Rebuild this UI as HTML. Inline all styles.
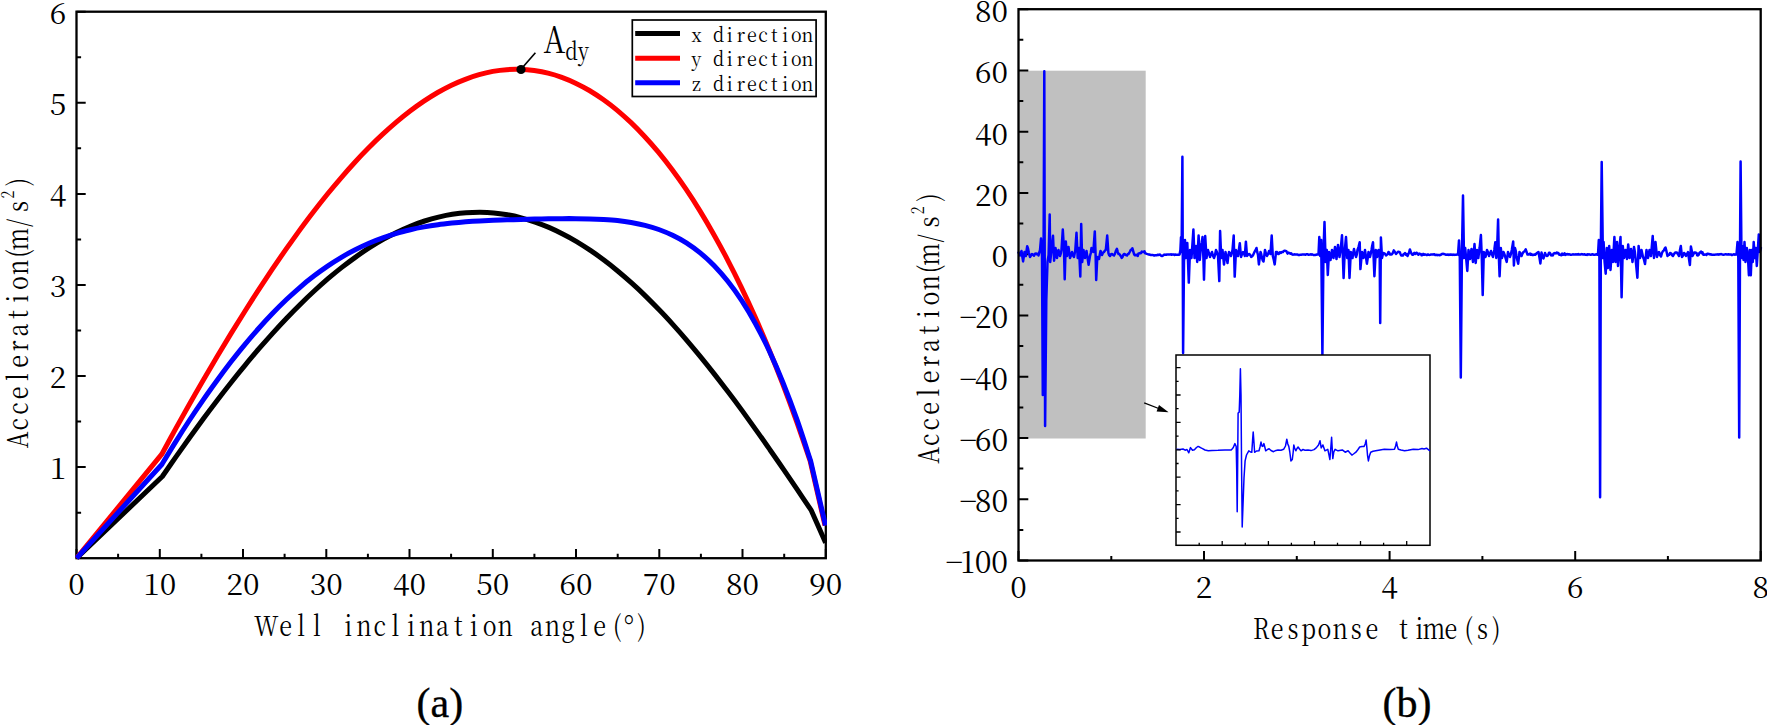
<!DOCTYPE html>
<html lang="en"><head><meta charset="utf-8"><title>Acceleration charts</title>
<style>html,body{margin:0;padding:0;background:#fff;overflow:hidden}svg{display:block}text{font-family:"Liberation Serif",serif;fill:#000}.s text,text.s{font-family:"Noto Serif CJK SC","Liberation Serif",serif;font-weight:400}</style></head><body>
<svg width="1767" height="725" viewBox="0 0 1767 725">
<rect width="1767" height="725" fill="#fff"/>
<g id="chart-a" class="s">
<rect x="76.5" y="11.7" width="749.3" height="546.5" fill="none" stroke="#000" stroke-width="2.3"/>
<path d="M76.5 512.7h4.6M76.5 467.1h9.2M76.5 421.6h4.6M76.5 376h9.2M76.5 330.5h4.6M76.5 285h9.2M76.5 239.4h4.6M76.5 193.9h9.2M76.5 148.3h4.6M76.5 102.8h9.2M76.5 57.2h4.6M76.5 11.7h9.2M76.5 558.2v-9.2M118.1 558.2v-4.4M159.8 558.2v-9.2M201.4 558.2v-4.4M243 558.2v-9.2M284.6 558.2v-4.4M326.3 558.2v-9.2M367.9 558.2v-4.4M409.5 558.2v-9.2M451.1 558.2v-4.4M492.8 558.2v-9.2M534.4 558.2v-4.4M576 558.2v-9.2M617.7 558.2v-4.4M659.3 558.2v-9.2M700.9 558.2v-4.4M742.5 558.2v-9.2M784.2 558.2v-4.4M825.8 558.2v-9.2" stroke="#000" stroke-width="2.0" fill="none"/>
<clipPath id="ca"><rect x="75.2" y="10.4" width="751.8" height="549"/></clipPath>
<g clip-path="url(#ca)">
<path d="M76.5 558.2L162.3 476.5C164.6 473.2 171.5 463.2 176.1 456.6C180.7 450.1 185.3 443.6 189.9 437.2C194.5 430.8 199.1 424.5 203.7 418.3C208.3 412.1 212.9 406 217.5 400C222.1 393.9 226.7 388 231.3 382.2C235.9 376.4 240.5 370.7 245.2 365.1C249.8 359.5 254.4 354.1 259 348.7C263.6 343.4 268.2 338.2 272.8 333.1C277.4 328 282 323 286.6 318.2C291.2 313.4 295.8 308.7 300.4 304.2C305 299.6 309.6 295.2 314.2 291C318.8 286.8 323.4 282.7 328 278.7C332.6 274.8 337.2 271 341.8 267.4C346.4 263.8 351 260.4 355.6 257.1C360.2 253.8 364.8 250.7 369.4 247.7C374 244.8 378.6 242 383.2 239.4C387.8 236.8 392.4 234.4 397 232.2C401.6 230 406.3 227.9 410.9 226C415.5 224.2 420.1 222.5 424.7 221C429.3 219.5 433.9 218.2 438.5 217.1C443.1 216 447.7 215 452.3 214.3C456.9 213.6 461.5 213 466.1 212.7C470.7 212.3 475.3 212.2 479.9 212.2C484.5 212.3 489.1 212.5 493.7 212.9C498.3 213.3 502.9 214 507.5 214.8C512.1 215.6 516.7 216.6 521.3 217.8C525.9 219.1 530.5 220.5 535.1 222.1C539.7 223.7 544.3 225.5 548.9 227.4C553.5 229.4 558.1 231.6 562.7 234C567.3 236.3 572 238.9 576.6 241.6C581.2 244.4 585.8 247.3 590.4 250.4C595 253.5 599.6 256.8 604.2 260.3C608.8 263.7 613.4 267.4 618 271.2C622.6 275 627.2 279 631.8 283.2C636.4 287.3 641 291.6 645.6 296.1C650.2 300.6 654.8 305.3 659.4 310.1C664 314.8 668.6 319.8 673.2 324.9C677.8 330 682.4 335.2 687 340.6C691.6 346 696.2 351.5 700.8 357.1C705.4 362.7 710 368.5 714.6 374.4C719.2 380.3 723.8 386.3 728.4 392.3C733.1 398.4 737.7 404.6 742.3 410.9C746.9 417.2 751.5 423.6 756.1 430.1C760.7 436.5 765.3 443.1 769.9 449.7C774.5 456.2 779.1 462.9 783.7 469.6C788.3 476.3 792.9 483.1 797.5 489.9C802.1 496.7 809 507 811.3 510.4L825.6 542.8" fill="none" stroke="#000" stroke-width="5.0" stroke-linejoin="round"/>
<path d="M76.5 558.2L161.8 454.2C164.1 450 171 437.3 175.6 428.9C180.2 420.6 184.8 412.4 189.4 404.3C194 396.1 198.6 388.1 203.2 380.2C207.8 372.3 212.4 364.4 217 356.7C221.6 349 226.2 341.4 230.8 333.9C235.4 326.4 240 319 244.6 311.7C249.2 304.4 253.8 297.2 258.4 290.2C263 283.1 267.6 276.2 272.1 269.4C276.7 262.6 281.3 255.9 285.9 249.3C290.5 242.8 295.1 236.4 299.7 230.1C304.3 223.9 308.9 217.7 313.5 211.8C318.1 205.8 322.7 200 327.3 194.3C331.9 188.6 336.5 183.1 341.1 177.8C345.7 172.4 350.3 167.2 354.9 162.2C359.5 157.2 364.1 152.4 368.7 147.8C373.3 143.1 377.9 138.6 382.5 134.4C387.1 130.1 391.7 126 396.3 122.1C400.9 118.2 405.5 114.5 410.1 111C414.7 107.5 419.3 104.2 423.9 101.1C428.5 98.1 433.1 95.2 437.7 92.5C442.3 89.9 446.9 87.4 451.5 85.2C456.1 83 460.7 81 465.3 79.3C469.9 77.5 474.5 76 479.1 74.7C483.7 73.4 488.2 72.3 492.8 71.4C497.4 70.6 502 70 506.6 69.7C511.2 69.3 515.8 69.2 520.4 69.4C525 69.5 529.6 69.9 534.2 70.5C538.8 71.2 543.4 72 548 73.2C552.6 74.3 557.2 75.7 561.8 77.4C566.4 79.1 571 81 575.6 83.2C580.2 85.4 584.8 87.8 589.4 90.5C594 93.3 598.6 96.3 603.2 99.5C607.8 102.8 612.4 106.3 617 110.1C621.6 114 626.2 118.1 630.8 122.4C635.4 126.8 640 131.5 644.6 136.5C649.2 141.4 653.8 146.7 658.4 152.2C663 157.8 667.6 163.6 672.2 169.8C676.8 176 681.4 182.4 686 189.2C690.6 196 695.2 203.1 699.8 210.6C704.3 218 708.9 225.8 713.5 233.9C718.1 242 722.7 250.4 727.3 259.3C731.9 268.1 736.5 277.2 741.1 286.8C745.7 296.3 750.3 306.2 754.9 316.6C759.5 326.9 764.1 337.6 768.7 348.7C773.3 359.8 777.9 371.4 782.5 383.4C787.1 395.4 791.7 407.8 796.3 420.7C800.9 433.6 807.8 454.1 810.1 460.8L825 525.5" fill="none" stroke="#f00" stroke-width="5.0" stroke-linejoin="round"/>
<path d="M76.5 558.2L162 464.2C164.3 460.4 171.2 448.9 175.8 441.6C180.4 434.2 185 427 189.6 420C194.2 413 198.8 406.2 203.4 399.6C208 392.9 212.6 386.5 217.2 380.2C221.8 373.9 226.4 367.8 231 361.8C235.6 355.9 240.2 350.1 244.8 344.6C249.4 339 254 333.6 258.6 328.5C263.2 323.3 267.8 318.3 272.4 313.5C277 308.7 281.6 304.2 286.2 299.8C290.8 295.4 295.4 291.3 300 287.3C304.6 283.3 309.2 279.6 313.8 276.1C318.4 272.5 323 269.2 327.6 266.1C332.2 262.9 336.8 260 341.4 257.3C346 254.5 350.6 252 355.2 249.7C359.8 247.3 364.4 245.2 369 243.2C373.6 241.2 378.2 239.4 382.8 237.8C387.4 236.1 392 234.6 396.6 233.3C401.2 231.9 405.8 230.8 410.4 229.7C415 228.6 419.6 227.7 424.2 226.9C428.8 226 433.4 225.3 438 224.7C442.6 224 447.2 223.5 451.8 223C456.4 222.6 461 222.2 465.6 221.8C470.2 221.5 474.8 221.2 479.4 220.9C484 220.7 488.6 220.5 493.2 220.3C497.8 220.1 502.4 219.9 507 219.8C511.6 219.6 516.2 219.5 520.8 219.4C525.4 219.3 530 219.2 534.6 219.1C539.2 219 543.8 218.9 548.4 218.8C553 218.8 557.6 218.7 562.2 218.7C566.8 218.6 571.4 218.6 576 218.7C580.6 218.7 585.2 218.7 589.8 218.9C594.4 219 599 219.2 603.6 219.5C608.2 219.8 612.8 220.1 617.4 220.6C622 221.1 626.6 221.7 631.2 222.5C635.8 223.3 640.4 224.2 645 225.4C649.6 226.6 654.2 227.9 658.8 229.5C663.4 231.2 668 233 672.6 235.3C677.2 237.5 681.8 240 686.4 242.9C691 245.9 695.6 249.1 700.2 252.9C704.8 256.7 709.4 260.8 714 265.5C718.6 270.3 723.2 275.4 727.8 281.3C732.4 287.1 737 293.4 741.6 300.4C746.2 307.5 750.8 315.1 755.4 323.5C760 331.9 764.6 340.9 769.2 350.7C773.8 360.6 778.4 371.1 783 382.6C787.6 394 792.2 406.1 796.8 419.2C801.4 432.2 808.3 453.9 810.6 460.8L825.5 525.5" fill="none" stroke="#00f" stroke-width="5.0" stroke-linejoin="round"/>
</g>
<g font-size="30" letter-spacing="0">
<text x="66.3" y="479.3" text-anchor="end">1</text>
<text x="66.3" y="388.2" text-anchor="end">2</text>
<text x="66.3" y="297.2" text-anchor="end">3</text>
<text x="66.3" y="206.1" text-anchor="end">4</text>
<text x="66.3" y="115" text-anchor="end">5</text>
<text x="66.3" y="23.9" text-anchor="end">6</text>
<text x="76.5" y="595.1" text-anchor="middle">0</text>
<text x="159.8" y="595.1" text-anchor="middle">10</text>
<text x="243" y="595.1" text-anchor="middle">20</text>
<text x="326.3" y="595.1" text-anchor="middle">30</text>
<text x="409.5" y="595.1" text-anchor="middle">40</text>
<text x="492.8" y="595.1" text-anchor="middle">50</text>
<text x="576" y="595.1" text-anchor="middle">60</text>
<text x="659.3" y="595.1" text-anchor="middle">70</text>
<text x="742.5" y="595.1" text-anchor="middle">80</text>
<text x="825.8" y="595.1" text-anchor="middle">90</text>
</g>
<text transform="translate(0,635.5) scale(0.83,1)" font-size="28" text-anchor="middle" x="320.8 344 362.9 381.8 400.7 419.6 438.6 457.5 476.4 495.3 514.2 533.1 552 571 589.9 608.8 627.7 646.6 665.5 684.5 703.4 722.3 743.6 757.7 773" dy="0 0 0 0 0 0 0 0 0 0 0 0 0 0 0 0 0 0 0 0 0 0 0 5.8 -5.8">Well inclination angle(<tspan font-size="36">°</tspan>)</text>
<text transform="translate(28.2,0) rotate(-90) scale(0.83,1)" font-size="28" text-anchor="middle" x="-530.1 -511.2 -492.3 -473.4 -454.5 -435.5 -416.6 -397.7 -378.8 -359.9 -341 -322 -305.5 -288.1 -268.6 -248.9 -234.5 -219.3" dy="0 0 0 0 0 0 0 0 0 0 0 0 0 0 0 0 -14.6 14.6">Acceleration(m/s<tspan font-size="17.5">2</tspan>)</text>
<rect x="632.3" y="20" width="183.8" height="76.5" fill="#fff" stroke="#000" stroke-width="1.7"/>
<path d="M635.2 33.6H680" stroke="#000" stroke-width="5" fill="none"/>
<text transform="translate(0,41.8) scale(0.9,1)" font-size="19.8" text-anchor="middle" x="773.8 786.1 798.5 810.8 823.2 835.5 847.8 860.2 872.5 884.9 897.2">x direction</text>
<path d="M635.2 58.2H680" stroke="#f00" stroke-width="5" fill="none"/>
<text transform="translate(0,66.0) scale(0.9,1)" font-size="19.8" text-anchor="middle" x="773.8 786.1 798.5 810.8 823.2 835.5 847.8 860.2 872.5 884.9 897.2">y direction</text>
<path d="M635.2 82.8H680" stroke="#00f" stroke-width="5" fill="none"/>
<text transform="translate(0,90.5) scale(0.9,1)" font-size="19.8" text-anchor="middle" x="773.8 786.1 798.5 810.8 823.2 835.5 847.8 860.2 872.5 884.9 897.2">z direction</text>
<circle cx="521" cy="69.5" r="4.6" fill="#000"/>
<path d="M522.5 67.5L535.4 52.8" stroke="#000" stroke-width="1.6" fill="none"/>
<text transform="translate(0,52.9) scale(0.83,1)" font-size="36.5" text-anchor="middle" x="667.8 688.6 703.1" dy="0 6.8 0">A<tspan font-size="24">dy</tspan></text>
<text x="416.6" y="716.6" font-size="42" stroke="#000" stroke-width="0.35" style="font-family:'Liberation Serif',serif">(a)</text>
</g>
<g id="chart-b" class="s">
<rect x="1018.5" y="70.7" width="127.2" height="367.8" fill="#c0c0c0"/>
<path d="M1018.5 9.2h9.8M1018.5 39.8h4.8M1018.5 70.5h9.8M1018.5 101.1h4.8M1018.5 131.7h9.8M1018.5 162.3h4.8M1018.5 193h9.8M1018.5 223.6h4.8M1018.5 254.2h9.8M1018.5 284.8h4.8M1018.5 315.5h9.8M1018.5 346.1h4.8M1018.5 376.7h9.8M1018.5 407.4h4.8M1018.5 438h9.8M1018.5 468.6h4.8M1018.5 499.2h9.8M1018.5 529.9h4.8M1018.5 560.5h9.8M1018.5 560.5v-9.6M1111.3 560.5v-4.6M1204 560.5v-9.6M1296.8 560.5v-4.6M1389.6 560.5v-9.6M1482.4 560.5v-4.6M1575.2 560.5v-9.6M1667.9 560.5v-4.6M1760.7 560.5v-9.6" stroke="#000" stroke-width="2.0" fill="none"/>
<path d="M1018.5 252.5L1019.2 253.6L1020 255.5L1020.8 252.5L1021.5 251L1022.3 256.5L1023.1 261.4L1024.5 252L1025.8 256L1027.2 246.2L1028 248.4L1028.8 252.5L1030 257L1031 255.6L1032 254L1033 254.6L1034 255.8L1035 253.7L1036 253.5L1036.8 254.2L1037.7 253.8L1038.5 255.5L1039.2 252.6L1040 250L1041 238.6L1042 256L1042.8 395L1043.4 300L1044.3 71.3L1045.1 426L1046.3 300L1047.5 262L1048.6 255L1049.7 214.5L1050.2 262L1051.5 250L1053 235.8L1054.1 260.7L1055.5 248L1056.2 252.1L1057 258L1057.8 253.1L1058.5 250L1059.2 252.8L1060 256L1060.8 253.7L1061.5 250L1062.8 229.6L1064 250L1064.7 279.3L1065.8 241.4L1067 256L1067.8 250.7L1068.5 247L1069.2 251.9L1070 258L1071 255.3L1072 252L1073 255.5L1074 257L1075.3 250L1076.5 232.8L1077.7 258L1079 248L1080.3 276.5L1081.2 224.1L1082.2 262L1083.5 250L1084.2 254.2L1085 258L1085.8 254.3L1086.5 251L1088.6 264.8L1090 256L1090.8 253L1091.5 248L1092.4 249L1093.3 252L1094.8 231.4L1095.6 255L1096.2 280L1097.3 257L1098.2 258.8L1099 259L1099.8 254.5L1100.5 251L1101.2 252.2L1102 255L1103 252.7L1104 252L1104.9 250.6L1105.8 250L1107.2 235.6L1108.4 253L1109.2 255.2L1110 256L1111 254.3L1112 254L1113 254.9L1114 255.5L1115 253.6L1115.9 250.8L1116.9 248.9L1117.7 251.6L1118.5 254L1119.3 254L1120.1 255L1120.9 256.3L1121.7 257.9L1122.5 257L1123.2 255.1L1124 254L1124.8 254L1125.5 254.9L1126.2 255L1127 255.5L1127.8 254.1L1128.5 254.1L1129.2 252.9L1130 251.5L1130.8 249.9L1131.6 249.5L1132.4 248.3L1133.2 251.2L1134 254L1134.8 255.2L1135.5 255.3L1136.2 254.7L1137 255.5L1137.8 255.9L1138.5 253.4L1139.2 253.4L1140 253L1140.9 253.2L1141.8 251.6L1142.8 252L1143.7 251.7L1144.5 251.3L1145.2 253.3L1146 253.5L1146.8 253.9L1147.6 254.1L1148.4 254.5L1149.2 254.4L1150 254.8L1150.8 255L1151.5 255L1152.2 255L1153 255L1153.8 255.4L1154.5 255.5L1155.2 255.2L1156 255.3L1156.8 255.3L1157.6 254.7L1158.4 255L1159.2 254.8L1160 254.5L1161 255.6L1162 256L1163 255.6L1164 254.8L1164.8 254.6L1165.5 254.7L1166.2 254.8L1167 254.4L1167.8 254.6L1168.5 254.4L1169.2 254.4L1170 254.6L1170.8 254.3L1171.5 254.8L1172.2 254.4L1173 254.5L1173.8 254.6L1174.5 255L1175.2 254.5L1176 254.8L1176.9 254.7L1177.8 254.7L1178.7 254.8L1179.6 254.5L1180.4 250L1181 237.2L1181.6 252L1182.4 156.7L1183.1 353L1184 262L1185 240L1186 258L1187.3 243L1188.8 282.6L1190 250L1190.8 254.7L1191.5 258L1193.4 229.5L1194.5 258L1196 246L1197.2 262L1198.6 235.6L1199.8 260L1201 246L1201.8 242.4L1202.5 237.1L1203.4 258L1204 279.6L1205.2 236L1206.5 258L1207.2 253.5L1208 250L1209 253.3L1210 257L1211 254.2L1212 252L1213 255.8L1214 258L1215 255L1216 250L1217 252.2L1218 256L1219.3 281.1L1220.1 231L1221.2 258L1222.5 250L1224 264.5L1225.5 252L1226.5 256.8L1227.5 263L1228.2 256.9L1229 252L1230 253.4L1231 256L1231.8 253L1232.5 250L1233.7 235.6L1234.7 276.6L1236 250L1237 253.2L1238 256L1239.8 243.2L1241 257L1242 254L1243 252L1243.9 252.9L1244.8 256L1245.9 241.7L1247 256L1248 254.8L1249 254L1249.8 254.3L1250.5 255.4L1251.2 256.9L1252 256.5L1253 255.2L1254 253L1254.8 251.4L1255.7 249.9L1256.5 248L1257.2 251.9L1258 255L1258.9 264.4L1260.5 252L1261.2 254L1262 258L1262.8 260.6L1263.5 261.5L1264.2 256.4L1265 250L1266 253.8L1267 256L1268 254.2L1269 251L1269.8 252.3L1270.5 254L1271.7 235.6L1272.8 256L1273.8 260L1274.7 264.4L1276 252L1277 252.1L1278 254L1278.8 254L1279.5 252.5L1280.2 252.3L1281 253L1282 251.9L1283 252L1283.8 250.9L1284.5 250.8L1285.3 250.8L1286.4 251.2L1287.5 253.6L1288.2 252.6L1289 253.1L1289.8 253.1L1290.5 253.8L1291.2 253.2L1292 254.4L1292.8 254.7L1293.6 254.6L1294.4 254.3L1295.2 254.4L1296 254.5L1296.8 254.5L1297.6 254.4L1298.4 255L1299.2 255.1L1300 254.8L1300.8 254.7L1301.6 254.7L1302.4 254.4L1303.2 254.4L1304 254.5L1304.8 254.5L1305.6 254.8L1306.4 254.3L1307.2 254.2L1308 254.5L1308.8 254.8L1309.6 254.6L1310.4 254.3L1311.2 254.7L1312 254.3L1312.8 254.7L1313.6 255L1314.4 255L1315.2 254.9L1316 254.8L1316.8 254.5L1317.7 254.5L1318.5 254.5L1319.3 237L1320.2 256L1321.2 240L1322.4 355L1323.5 250L1324.5 222L1325.6 262L1326.8 250L1327.8 275L1329 252L1329.8 255.3L1330.5 260L1331.2 255.6L1332 250L1332.8 254.1L1333.5 258L1334.2 253.1L1335 247L1336.5 259L1338 245L1339.5 257L1340.8 248L1342 235.3L1342.9 258L1343.6 278L1344.8 250L1346 237L1347.2 258L1348.5 250L1349.5 278L1350.8 252L1351.7 254.6L1352.5 258L1353.2 252.9L1354 249L1355 253.7L1356 257L1356.8 254.6L1357.5 250L1358.6 246.9L1359.7 242.2L1360.4 269.1L1362 252L1362.8 255.7L1363.5 258L1364.2 254.7L1365 250L1366.9 263.7L1367.7 258.4L1368.5 252L1369.2 253.9L1370 257L1370.8 253.5L1371.5 250L1372.2 245.8L1373 242.2L1374.4 276.2L1375.8 250L1377 257L1377.8 252.5L1378.5 250L1379.7 258L1380.2 322.9L1380.9 237.5L1382 258L1382.8 254.5L1383.5 253L1384.3 253.3L1385.2 254.1L1386 255.5L1386.8 254.8L1387.7 254.2L1388.5 252L1389.3 252.7L1390.2 254.6L1391 254.5L1391.9 254.2L1392.9 252.8L1393.8 250.4L1394.9 251.9L1396 254L1396.8 252.9L1397.5 252.4L1398.2 251.8L1399 252L1399.8 252.2L1400.5 254L1401.2 255.5L1402 255.5L1402.8 255.6L1403.5 254.2L1404.2 254L1405 253L1405.8 254.7L1406.7 254.1L1407.5 256L1408.3 254.2L1409.1 252.5L1409.9 249.4L1411 252.6L1412 254.5L1412.8 254.8L1413.6 253.9L1414.4 252.9L1415.2 253.9L1416 253L1416.8 252.8L1417.6 254.1L1418.4 254.6L1419.2 253.6L1420 254L1420.8 253.9L1421.6 255.3L1422.4 255L1423.2 253.9L1424 254.8L1424.8 254.5L1425.6 254.5L1426.4 255L1427.2 254.9L1428 254.4L1428.8 254.8L1429.6 254.9L1430.4 254.7L1431.2 254.4L1432 254.5L1432.8 254.6L1433.6 254.3L1434.4 254.3L1435.2 255L1436 254.9L1436.8 254.8L1437.6 255.2L1438.4 254.9L1439.2 255.2L1440 255L1440.8 254.9L1441.5 254.2L1442.2 253.9L1443 253.8L1443.8 253.9L1444.5 254.1L1445.2 254.6L1446 254.8L1446.8 254.6L1447.5 254.7L1448.2 254.5L1449 255L1449.8 254.6L1450.5 254.6L1451.2 254.7L1452 254.6L1452.8 254.9L1453.5 254.6L1454.2 254.9L1455 254.7L1455.8 254.7L1456.5 254.7L1457.2 254.4L1458 254.7L1459 240.4L1459.8 258L1460.8 377.4L1461.9 255L1463 195.6L1464 258L1465.2 248L1466.2 259L1467.3 270.9L1468.5 250L1469.2 254.4L1470 259L1470.8 253.3L1471.5 249L1473 262L1474.5 244L1475.7 263L1477 250L1478.3 258L1479.6 248L1480.9 235L1481.8 258L1482.7 294.9L1483.8 252L1484.7 253.4L1485.5 257L1486.2 254.2L1487 250L1488 252.3L1489 256L1490 253.4L1491 251L1492 254.5L1493 257L1494.3 250L1495.3 242.2L1496.3 258L1497.2 246L1498.1 219.6L1498.9 258L1499.6 276.2L1500.8 248L1502 258L1502.8 255.1L1503.5 252L1504.2 253.6L1505 256L1505.8 259L1506.7 261.9L1508 252L1509 254.6L1510 257L1510.9 254.1L1511.8 250L1513.2 241.5L1513.9 265.5L1515 248L1515.8 251.1L1516.5 256L1517.3 260L1518.2 263.7L1519.5 252L1520.5 253.4L1521.5 256L1522.5 253.5L1523.5 252L1524.6 251.3L1525.7 249.4L1526.6 252L1527.5 254.5L1528.3 254.3L1529.2 254.4L1530 253.5L1530.8 254.8L1531.5 254.1L1532.2 254.9L1533 255L1533.8 254.8L1534.5 254.5L1535.2 254.7L1536 254L1536.8 253.2L1537.7 252.7L1538.5 252L1539.5 257.7L1540.4 263.5L1541.5 252.5L1542.5 256.5L1543.5 258.5L1544.2 256.2L1545 253L1546 255.3L1547 256L1548 255.4L1549 252.8L1549.8 252.8L1550.5 254L1551.2 255.4L1552 255L1552.8 255.4L1553.6 253.5L1554.4 253.1L1555.2 253.4L1556 253.2L1556.8 252.5L1557.6 253.2L1558.4 253.1L1559.2 254.7L1560 254.6L1560.8 255.1L1561.5 255.3L1562.2 253.6L1563 254.8L1563.8 254.6L1564.5 253.4L1565.2 254.9L1566 254L1566.8 254.4L1567.5 254L1568.2 254.5L1569 254.2L1569.8 254.4L1570.5 254.8L1571.2 254.8L1572 254.6L1572.8 254.3L1573.6 254.5L1574.4 254.6L1575.2 254.4L1576 254.3L1576.8 254.4L1577.6 254.6L1578.4 254.1L1579.2 254.5L1580 254.4L1580.8 254.4L1581.5 254.1L1582.3 254.3L1583.1 254.5L1583.8 254.5L1584.6 254.2L1585.4 254.8L1586.2 254.7L1586.9 254.9L1587.7 254.3L1588.5 254.4L1589.2 254.3L1590 254.6L1590.8 254.8L1591.6 254.4L1592.4 254.3L1593.2 254.5L1594 254.8L1594.8 254.8L1595.6 254.4L1596.4 254.3L1597.2 254.8L1598 254.5L1598.8 240L1599.4 258L1600.1 497.2L1600.8 252L1601.7 161.9L1602.9 258L1603.6 242L1604.6 262L1605.7 273.7L1606.8 248L1608 268L1609.2 246L1610.5 270L1611.8 250L1613 262L1614.4 237L1615.6 262L1617 242L1618 266L1619.2 250L1620.5 237L1621.6 297.2L1622.8 246L1624 258L1624.8 254.2L1625.5 250L1626.2 254.9L1627 259L1628.2 244.6L1629.5 258L1630.2 252.6L1631 249L1632.5 262L1634 247L1634.8 251.5L1635.5 258L1637.4 277.8L1638.6 246L1640 258L1640.8 254.4L1641.5 250L1642.2 253.3L1643 257L1644 259.6L1645 264L1646.5 250L1647.2 255L1648 258L1648.8 254.3L1649.5 250L1650.2 253.7L1651 256L1652.7 236L1654 258L1655.5 242L1657 257L1658 253.6L1659 252L1660 255L1661 256.5L1662 252.8L1663 251L1663.8 250.6L1664.7 248.6L1665.5 247.5L1666.5 251.4L1667.5 256L1668.3 255.1L1669.2 254.9L1670 253L1670.8 253.2L1671.5 253.7L1672.2 255.3L1673 256L1673.8 254.5L1674.5 253.4L1675.2 252.6L1676 252.5L1676.8 252.4L1677.5 253.6L1678.2 254.7L1679 256L1679.9 250.6L1680.8 246L1682 257L1683 255.6L1684 253L1685 254L1686 256L1687 254L1688 252L1689.9 265L1690.9 246.5L1691.7 250.5L1692.5 256L1693.3 254.5L1694.2 252.6L1695 252.5L1695.8 252.7L1696.5 252.9L1697.2 255.3L1698 255.5L1698.8 254.6L1699.5 252.8L1700.2 252.4L1701 251.5L1701.8 253.3L1702.5 252.3L1703.2 254.7L1704 254.8L1704.8 254.5L1705.6 254.4L1706.4 254.9L1707.2 253.8L1708 253.8L1708.8 253.9L1709.5 254.2L1710.2 254.5L1711 254.2L1711.8 254.7L1712.5 254.7L1713.2 254.8L1714 254.8L1714.8 254.7L1715.6 254.6L1716.4 254.4L1717.2 254.4L1718 254.3L1718.8 254.7L1719.6 254.3L1720.4 254.2L1721.2 254.1L1722 254.4L1722.8 254.7L1723.6 254.7L1724.4 254.6L1725.2 254.3L1726 254.3L1726.8 254.4L1727.6 254.5L1728.4 254.3L1729.2 254.5L1730 254.6L1730.8 254.4L1731.6 254.9L1732.4 254.9L1733.2 254.5L1734.1 254.3L1734.9 254.8L1735.7 254.3L1736.5 254.4L1737.5 242L1738.3 258L1739.2 437.5L1740 252L1740.6 161.4L1741.5 258L1742.5 246L1743.5 260L1744.5 242L1745.5 262L1746.8 248L1748 258L1748.9 275.2L1749.8 250L1750.8 275.2L1751.8 250L1752.8 262L1753.7 242L1754.8 258L1755.8 248L1756.8 266L1757.8 250L1758.8 234.4L1759.8 252L1760.9 248" fill="none" stroke="#00f" stroke-width="2.5" stroke-linejoin="round" stroke-linecap="round"/>
<rect x="1018.5" y="9.2" width="742.2" height="551.3" fill="none" stroke="#000" stroke-width="2.3"/>
<g font-size="30" letter-spacing="0">
<text x="1008.1" y="22.1" text-anchor="end">80</text>
<text x="1008.1" y="83.4" text-anchor="end">60</text>
<text x="1008.1" y="144.6" text-anchor="end">40</text>
<text x="1008.1" y="205.9" text-anchor="end">20</text>
<text x="1008.1" y="267.1" text-anchor="end">0</text>
<text x="1008.1" y="328.4" text-anchor="end" dx="0 -2.3">−20</text>
<text x="1008.1" y="389.6" text-anchor="end" dx="0 -2.3">−40</text>
<text x="1008.1" y="450.9" text-anchor="end" dx="0 -2.3">−60</text>
<text x="1008.1" y="512.1" text-anchor="end" dx="0 -2.3">−80</text>
<text x="1008.1" y="573.4" text-anchor="end" dx="0 -2.3">−100</text>
<text x="1018.5" y="597.8" text-anchor="middle">0</text>
<text x="1204" y="597.8" text-anchor="middle">2</text>
<text x="1389.6" y="597.8" text-anchor="middle">4</text>
<text x="1575.2" y="597.8" text-anchor="middle">6</text>
<text x="1760.7" y="597.8" text-anchor="middle">8</text>
</g>
<text transform="translate(0,638.8) scale(0.83,1)" font-size="28" text-anchor="middle" x="1519.6 1538.7 1557.7 1576.7 1595.8 1614.8 1633.9 1652.9 1671.9 1691 1710 1727.6 1748.1 1769.5 1786.1 1802.8">Response time(s)</text>
<text transform="translate(938.5,0) rotate(-90) scale(0.83,1)" font-size="28" text-anchor="middle" x="-548.8 -529.9 -511 -492 -473.1 -454.2 -435.3 -416.4 -397.5 -378.6 -359.6 -340.7 -324.2 -306.7 -287.2 -267.6 -253.2 -238" dy="0 0 0 0 0 0 0 0 0 0 0 0 0 0 0 0 -14.6 14.6">Acceleration(m/s<tspan font-size="17.5">2</tspan>)</text>
<rect x="1176" y="355" width="254" height="190.3" fill="#fff" stroke="#000" stroke-width="1.5"/>
<path d="M1176.4 449.3L1180 449.6L1183 449L1185.1 450.2L1187 449.5L1188.8 452.8L1190.5 447.6L1192.5 450.3L1194.4 449.8L1196.5 447.5L1198.1 446.4L1200 447.3L1202.5 448.6L1205 450L1208.3 450.8L1212 450.4L1218 450.3L1225 450L1231.4 449.9L1233.3 447.5L1234.9 443.6L1236.2 446.5L1236.7 470L1237.2 511.7L1237.6 470L1238.1 413.1L1239.2 412.2L1239.8 395L1240.4 368.8L1241 395L1241.6 470L1242.2 527L1243 505L1244 478L1245.1 460.9L1246.5 455L1248.8 450.8L1250.5 452L1251.8 452.3L1252.6 440L1253.2 432L1253.8 440L1254.6 452.3L1256.5 451L1259 450.8L1260 447L1261 442.1L1262 446L1262.8 446.4L1263.9 443.6L1264.8 447L1265.7 450.8L1267.5 449.5L1269.1 448.8L1271 450.5L1273.5 451.7L1276 450.4L1278 449.9L1281 450.2L1283.6 449.3L1285.5 446L1286.8 439.2L1287.8 444L1288.8 446.4L1289.8 452L1290.9 460.9L1292.3 459.5L1293.2 452L1293.8 445L1294.6 448L1295.8 450.8L1297 448.5L1298.1 447L1299.5 449L1301 450.8L1303 449.5L1305 450.2L1308 450L1311 450.6L1314 449.6L1316.2 447.9L1318.5 445L1320 440.7L1321.2 447.9L1322.9 445L1324.9 450.8L1327.8 449.3L1329 455L1329.9 459.5L1330.8 448L1331.6 437.2L1332.2 448L1332.8 458.6L1333.8 452L1335.1 449.3L1338 450.8L1342.3 449.9L1345.2 452.2L1348.1 450.8L1350 453L1351.9 455.1L1353.5 454L1355.9 452.2L1358 449.5L1359.7 447L1362 446.6L1364.1 446.4L1365.2 444L1366.1 440.1L1366.9 448L1367.6 456L1368.4 460.9L1369.4 456L1370.7 452.2L1373 451.3L1375.7 450.8L1380 450L1384.3 449.3L1390 449.5L1394.5 449.3L1395.6 446L1396.5 442.1L1397.3 446L1398.3 449.3L1401 450L1404.6 450.8L1408 450.3L1413.3 449.3L1418 449.6L1422 448.5L1424 449L1426.5 448.2L1429.9 450.8" fill="none" stroke="#00f" stroke-width="1.5" stroke-linejoin="round"/>
<path d="M1176 367.6h4.6M1176 381.3h2.6M1176 395h4.6M1176 408.7h2.6M1176 422.4h4.6M1176 436.1h2.6M1176 449.8h4.6M1176 463.5h2.6M1176 477.2h4.6M1176 490.9h2.6M1176 504.6h4.6M1176 518.3h2.6M1176 532h4.6M1199.2 545.3v-2.6M1222.2 545.3v-4.2M1245.3 545.3v-2.6M1268.4 545.3v-4.2M1291.4 545.3v-2.6M1314.5 545.3v-4.2M1337.5 545.3v-2.6M1360.5 545.3v-4.2M1383.6 545.3v-2.6M1406.7 545.3v-4.2" stroke="#000" stroke-width="1.3" fill="none"/>
<path d="M1144.2 402.9L1160 409" stroke="#000" stroke-width="1.3" fill="none"/>
<path d="M1168.6 412.3L1156.6 411.5L1159 405Z" fill="#000"/>
<text x="1382.5" y="716.6" font-size="42" stroke="#000" stroke-width="0.35" style="font-family:'Liberation Serif',serif">(b)</text>
</g>
</svg></body></html>
